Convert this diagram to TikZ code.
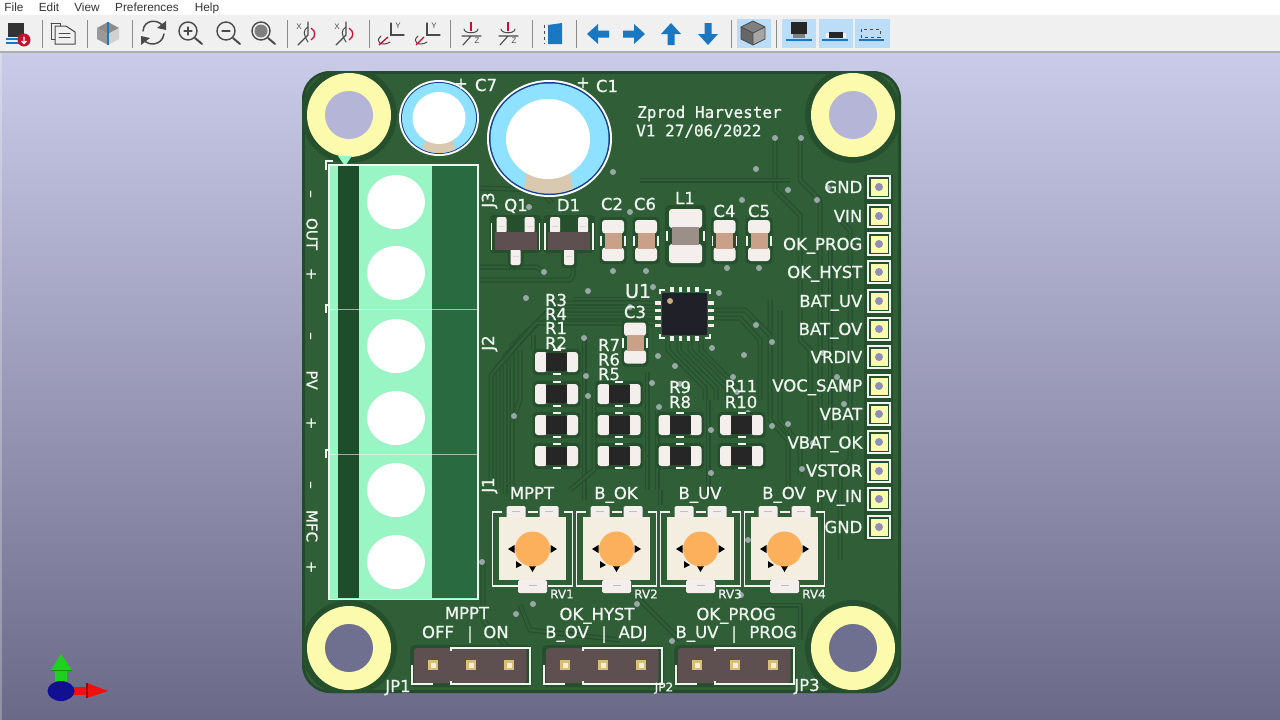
\documentclass[tikz,border=0pt]{standalone}
\usepackage{fontspec}
\setmainfont{DejaVu Sans}
\newfontfamily\silkf{DejaVu Sans}[RawFeature={embolden=0.8}]
\newfontfamily\monof{DejaVu Sans Mono}[RawFeature={embolden=0.8}]
\newfontfamily\uif{Liberation Sans}
\usetikzlibrary{calc}
\definecolor{bgtop}{HTML}{CACAE9}
\definecolor{bgbot}{HTML}{6A6A88}
\definecolor{pcbedge}{HTML}{234A2A}
\definecolor{pour}{HTML}{2F5E37}
\definecolor{clear}{HTML}{26502D}
\definecolor{silk}{HTML}{EFF5EF}
\definecolor{padw}{HTML}{F4EFEC}
\definecolor{padcream}{HTML}{F3EEE0}
\definecolor{captan}{HTML}{C9A088}
\definecolor{lgreen}{HTML}{9AF5C4}
\definecolor{dgreen}{HTML}{1D4D2B}
\definecolor{mgreen}{HTML}{2A6A40}
\definecolor{yel}{HTML}{FCFAAC}
\definecolor{cyanb}{HTML}{8FE2FF}
\definecolor{navyb}{HTML}{12408F}
\definecolor{viac}{HTML}{98A8A6}
\definecolor{bodyc}{HTML}{5E4F50}
\definecolor{ic}{HTML}{4A4A4A}
\definecolor{bl}{HTML}{1A78C2}
\definecolor{rd}{HTML}{C8102E}
\definecolor{hi}{HTML}{BBDDF8}
\definecolor{orangec}{HTML}{FDB05C}
\definecolor{pingold}{HTML}{D8BE78}
\definecolor{dotc}{HTML}{8F8FB8}
\definecolor{holet}{HTML}{B5B5D8}
\definecolor{holeb}{HTML}{6F6F90}
\definecolor{gzg}{HTML}{20D020}
\definecolor{gzgd}{HTML}{109010}
\definecolor{gzr}{HTML}{F01010}
\definecolor{gzrd}{HTML}{900808}
\definecolor{gzb}{HTML}{101090}
\definecolor{ctan}{HTML}{D9C9B0}
\definecolor{lgrey}{HTML}{9A9088}
\definecolor{icblack}{HTML}{202028}
\definecolor{pin1}{HTML}{C0B080}
\tikzset{
 sl/.style={text=silk,inner sep=0pt,text height=12pt,text depth=0pt,font=\fontsize{16.5}{17}\silkf\selectfont},
 srt/.style={sl,anchor=east},
 ssm/.style={text=silk,inner sep=0pt,text height=8.8pt,text depth=0pt,font=\fontsize{12}{12}\silkf\selectfont},
 mono/.style={text=silk,inner sep=0pt,text height=11.8pt,text depth=0pt,font=\fontsize{16}{17}\monof\selectfont},
 menu/.style={inner sep=0pt,anchor=base,text=black!80,font=\fontsize{11.8}{12}\uif\selectfont},
 axl/.style={inner sep=0pt,text=ic,font=\fontsize{8}{8}\uif\selectfont},
 tk/.style={draw=silk,line width=1.3pt},
 trk/.style={draw=clear,double=pour,line width=1.2pt,double distance=2.6pt,line join=round},
 icl/.style={draw=ic,line width=1.3pt,line cap=round},
 sepv/.style={draw=black!45,line width=1pt},
}
\newcommand\vias[1]{\foreach \a/\b in {#1}{\fill[viac] (\a,\b) circle (3);}}
\newcommand\hole[3]{\fill[clear] (#1,#2) circle (48);\fill[yel] (#1,#2) circle (42);\fill[#3] (#1,#2) circle (24);}
\newcommand\capv[4][20.5]{%
 \fill[clear,rounded corners=4] (#2-13.5,#3-#1-3) rectangle (#2+13.5,#3+#1+3);
 \draw[tk] (#2-12,#3-5)--(#2-12,#3+5) (#2+12,#3-5)--(#2+12,#3+5);
 \fill[padw,rounded corners=3] (#2-11,#3-#1) rectangle (#2+11,#3-7);
 \fill[padw,rounded corners=3] (#2-11,#3+#1) rectangle (#2+11,#3+7);
 \fill[#4] (#2-8.5,#3-8) rectangle (#2+8.5,#3+8);
}
\newcommand\resh[2]{%
 \fill[clear,rounded corners=4] (#1-24,#2-13) rectangle (#1+24,#2+13);
 \draw[tk] (#1-4,#2-12)--(#1+4,#2-12) (#1-4,#2+12)--(#1+4,#2+12);
 \fill[padw,rounded corners=3] (#1-21.5,#2-10) rectangle (#1-9,#2+10);
 \fill[padw,rounded corners=3] (#1+21.5,#2-10) rectangle (#1+9,#2+10);
 \fill[black!85] (#1-10.5,#2-9) rectangle (#1+10.5,#2+9);
}
\newcommand\sot[2]{%
 \fill[clear,rounded corners=4] (#1-26,#2-17) rectangle (#1+26,#2+21);
 \fill[clear,rounded corners=4] (#1-8,#2+17) rectangle (#1+8,#2+36);
 \draw[tk] (#1-24,#2-9)--(#1-24,#2+18) (#1+24,#2-9)--(#1+24,#2+18);
 \foreach \dx in {-14,14}{\fill[padw,rounded corners=2] (#1+\dx-5,#2-15) rectangle (#1+\dx+5,#2+1);\fill[black!15] (#1+\dx-3,#2-6) rectangle (#1+\dx+3,#2-5);}
 \fill[padw,rounded corners=2] (#1-5,#2+17) rectangle (#1+5,#2+33);
 \fill[black!15] (#1-3,#2+24) rectangle (#1+3,#2+25);
 \fill[bodyc] (#1-21,#2) rectangle (#1+21,#2+18);
}
\newcommand\trim[1]{%
 \draw[tk] (#1-31,512)--(#1-40,512)--(#1-40,586)--(#1-15,586);
 \draw[tk] (#1+31,512)--(#1+40,512)--(#1+40,586)--(#1+15,586);
 \draw[tk] (#1-5,512)--(#1+5,512);
 \fill[padw,rounded corners=1.5] (#1-26,506) rectangle (#1-7,518);
 \fill[padw,rounded corners=1.5] (#1+7,506) rectangle (#1+26,518);
 \fill[padw,rounded corners=1.5] (#1-14.5,580) rectangle (#1+14.5,593);
 \foreach \dx in {-16.5,16.5}{\fill[black!25] (#1+\dx-4,510.5) rectangle (#1+\dx+4,512);}
 \fill[black!25] (#1-4,584.5) rectangle (#1+4,586);
 \fill[padcream] (#1-33.5,517) rectangle (#1+33.5,580);
 \fill[black] (#1-24.5,549) -- (#1-18,545) -- (#1-18,553) -- cycle;
 \fill[black] (#1+24.5,549) -- (#1+18,545) -- (#1+18,553) -- cycle;
 \fill[black] (#1,572) -- (#1-3.5,566) -- (#1+3.5,566) -- cycle;
 \fill[black] (#1-10.5,565) -- (#1-16.5,561) -- (#1-16.5,568) -- cycle;
 \fill[orangec] (#1,549) circle (17.5);
}
\newcommand\jp[1]{%
 \fill[clear,rounded corners=5] (#1-23,645) rectangle (#1+99,687);
 \fill[bodyc,rounded corners=3] (#1-19,648) rectangle (#1+93.5,683);
 \draw[tk] (#1-21,665)--(#1-21,684)--(#1,684);
 \draw[tk] (#1+18,651)--(#1+18,648)--(#1+97,648)--(#1+97,684)--(#1+18,684)--(#1+18,681);
 \foreach \dx in {0,38,76}{\fill[pingold] (#1+\dx-5,660) rectangle (#1+\dx+5,670);\fill[padcream] (#1+\dx-2.5,662.5) rectangle (#1+\dx+2.5,667.5);}
}
\newcommand\pinp[1]{%
 \draw[draw=silk,line width=1.3pt] (868,#1-11) rectangle (890,#1+11);
 \fill[yel] (870.5,#1-8.5) rectangle (887.5,#1+8.5);
 \fill[dotc] (879,#1) circle (4);
}
\newcommand\hiconbg[2]{\fill[hi] (#1,19) rectangle (#2,48);}
\newcommand\rotic[2]{%
 \node[axl] (axx#2) at (#1-7,27) {X};
 \draw[icl,line width=1.1pt] (#1+2,22)--(#1+2,35)--(#1-8,45);
 \draw[rd,line width=1.3pt] (#1+5,28) .. controls (#1+10,31) and (#1+10,37) .. (#1+5,40);
 \draw[icl,line width=1pt] (#1+2,42) .. controls (#1-3,34) and (#1-3,30) .. (#1+2,27);
}
\begin{document}
\begin{tikzpicture}[x=1pt,y=-1pt]
\useasboundingbox (0,0) rectangle (1280,720);
\shade[top color=bgtop,bottom color=bgbot] (0,52) rectangle (1280,720);
\fill[white,opacity=.25] (0,52) rectangle (2,720);
\fill[white] (0,0) rectangle (1280,15);
\fill[black!6] (0,15) rectangle (1280,51);
\fill[black!32] (0,51) rectangle (1280,53);
\node[menu] (mfile) at (14,11) {File};
\node[menu] (medit) at (49,11) {Edit};
\node[menu] (mview) at (87,11) {View};
\node[menu] (mpref) at (147,11) {Preferences};
\node[menu] (mhelp) at (207,11) {Help};
\hiconbg{737}{771}\hiconbg{782}{816}\hiconbg{819}{853}\hiconbg{855}{890}
\foreach \x in {42,87,132,287,369,450,532,576,731,776}{\draw[sepv] (\x,20)--(\x,48);}
\fill[black!80] (8,23) rectangle (24,37);
\fill[bl] (6,38) rectangle (24,40); \fill[bl] (6,42) rectangle (22,44);
\fill[rd] (24,40) circle (6.5);
\draw[white,line width=1.4pt] (24,36.5)--(24,43) (21.5,41)--(24,43.5)--(26.5,41);
\draw[icl,line width=1pt] (51,23)--(60,23)--(60,26) (51,23)--(51,39)--(55,39);
\draw[icl,line width=1pt] (55,26)--(66,26)--(75,32)--(75,44)--(55,44)--cycle;
\draw[icl,line width=1pt] (59,33)--(70,33) (59,37)--(70,37);
\fill[black!45] (108,22)--(119,28)--(108,34)--(97,28)--cycle;
\fill[black!40] (97,28)--(108,34)--(108,45)--(97,39)--cycle;
\fill[black!18] (119,28)--(108,34)--(108,45)--(119,39)--cycle;
\draw[bl,line width=1.2pt] (108,22)--(108,45);
\draw[icl,line width=1.5pt] (143,31) .. controls (144,19) and (158,19) .. (163,26);
\draw[icl,line width=1.5pt] (164,34) .. controls (162,46) and (148,46) .. (144,40);
\fill[ic] (166,21)--(166,30)--(157,28)--cycle;
\fill[ic] (141,45)--(141,36)--(150,38)--cycle;
\foreach \x in {188,226,261}{\draw[icl,line width=1.4pt] (\x,31) circle (9);\draw[icl,line width=2pt] (\x+7,38)--(\x+14,44);}
\draw[icl] (184,31)--(192,31) (188,27)--(188,35);
\draw[icl] (222,31)--(230,31);
\fill[black!50] (261,31) circle (6.5);
\rotic{306}{a}
\rotic{344}{b}
\node[axl] (axya) at (398,26) {Y};
\draw[icl,line width=1.1pt] (391,23)--(391,35)--(404,35);
\draw[rd,line width=1.3pt] (379,45)--(388,37);
\draw[icl,line width=1pt] (381,36) .. controls (374,42) and (382,47) .. (390,42);
\node[axl] (axyb) at (434,26) {Y};
\draw[icl,line width=1.1pt] (427,23)--(427,35)--(440,35);
\draw[rd,line width=1.3pt] (416,45)--(424,37);
\draw[icl,line width=1pt] (418,36) .. controls (411,42) and (419,47) .. (427,42);
\foreach \x in {472,509}{
 \node[axl] (axz\x) at (\x+5,41) {Z};
 \draw[rd,line width=1.3pt] (\x-1,22)--(\x-1,31);
 \draw[icl,line width=1.1pt] (\x-10,36)--(\x+9,36) (\x-1,36)--(\x-9,45);
 \draw[icl,line width=1pt] (\x-8,29) .. controls (\x-8,34) and (\x+6,34) .. (\x+6,29);
}
\fill[bl] (548,25)--(562,23)--(562,44)--(548,44)--cycle;
\draw[ic,dashed,line width=1pt] (544,25)--(544,44);
\foreach \ax/\ang in {598/180,634/0,671/90,708/-90}{
 \fill[bl,shift={(\ax,34)},rotate=\ang] (-11,-3.5)--(0,-3.5)--(0,-10)--(11,0)--(0,10)--(0,3.5)--(-11,3.5)--cycle;}
\fill[black!50] (753,21)--(765,27)--(753,33)--(741,27)--cycle;
\fill[black!60] (741,27)--(753,33)--(753,45)--(741,39)--cycle;
\fill[black!35] (765,27)--(753,33)--(753,45)--(765,39)--cycle;
\draw[ic,line width=.8pt] (753,21)--(765,27)--(765,39)--(753,45)--(741,39)--(741,27)--cycle (741,27)--(753,33)--(765,27) (753,33)--(753,45);
\fill[black!85] (791,22) rectangle (807,34);
\fill[black!50] (793,34) rectangle (805,38);
\fill[bl] (786,39) rectangle (812,41);
\fill[black!85] (829,32) rectangle (843,38); \fill[padw] (826,33) rectangle (829,38); \fill[padw] (843,33) rectangle (846,38);
\fill[bl] (822,39) rectangle (848,41);
\draw[ic,dashed,line width=1pt] (861,29) rectangle (880,37);
\fill[bl] (859,39) rectangle (884,41);
% gizmo
\fill[gzg] (55,669) rectangle (67,684);
\fill[gzg] (61,654)--(72,670)--(51,670)--cycle;
\draw[gzgd,line width=1pt] (51,670.5)--(72,670.5);
\fill[gzr] (70,687) rectangle (88,695);
\fill[gzr] (108,691)--(87,683)--(87,698)--cycle;
\draw[gzrd,line width=1.2pt] (87,683)--(87,698);
\fill[gzb] (61,691) ellipse (13.5 and 10);
% PCB
\fill[pcbedge,rounded corners=28] (302,71) rectangle (901,693);
\fill[pour,rounded corners=24] (305,74) rectangle (898,690);
\begin{scope}
\clip[rounded corners=28] (302,71) rectangle (901,693);
\fill[clear] (864,175) rectangle (893,540);
\draw[trk] (480,267)--(537,267)--(544,272);
\draw[trk] (480,280)--(570,280)--(573,275)--(573,265);
\draw[trk] (480,188)--(540,190)--(552,203);
\draw[trk] (573,303)--(622,303);
\draw[trk] (573,299)--(640,299);
\foreach \k/\y/\x in {0/303/512,1/310/505,2/317/498,3/323/491}{
 \draw[trk] (658,\y)--(\x+45,\y)--(\x,\y+43+\k*3)--(\x,500-\k*6);}
\draw[trk] (520,350)--(520,400)--(514,416);
\draw[trk] (533,335)--(533,350);
\draw[trk] (584,338)--(584,500);
\draw[trk] (594,390)--(594,470)--(570,490);
\draw[trk] (647,372)--(647,490);
\draw[trk] (657,410)--(657,490);
\foreach \d in {0,1,2,3}{
 \draw[trk] (668+\d*11,340)--(668+\d*11,350)--(705+\d*11,388)--(705+\d*11,400);
}
\draw[trk] (708,400)--(708,500);
\draw[trk] (770,300)--(770,420)--(788,440)--(788,500);
\draw[trk] (780,310)--(780,420)--(800,445)--(800,475);
\draw[trk] (712,310)--(745,310)--(770,335);
\draw[trk] (712,318)--(740,318)--(760,340)--(760,400);
\draw[trk] (800,138)--(800,180)--(820,200)--(820,530);
\draw[trk] (775,138)--(775,190)--(800,215)--(800,340)--(810,350)--(810,440);
\draw[trk] (840,220)--(850,230)--(850,460)--(840,470)--(840,560);
\draw[trk] (830,250)--(830,430);
\draw[trk] (483,562)--(483,620)--(510,650);
\draw[trk] (520,605)--(530,630)--(620,640);
\draw[trk] (640,600)--(680,640);
\draw[trk] (760,605)--(800,605)--(800,640);
\draw[trk] (660,490)--(660,505);
\draw[trk] (640,180)--(790,180);
\hole{349}{115}{holet}\hole{853}{115}{holet}\hole{349}{648}{holeb}\hole{853}{648}{holeb}
\end{scope}
\vias{613/172,529/207,544/272,613/271,588/291,526/298,756/169,775/138,801/138,788/190,828/188,817/200,742/200,630/212,646/271,727/268,759/268,653/287,719/293,630/307,756/325,772/342,584/338,712/348,744/355,658/356,675/366,586/376,588/396,652/383,680/384,733/377,737/392,659/407,748/413,514/416,711/430,772/426,788/424,711/473,823/353,837/377,847/388,844/404,813/443,802/469,482/562,533/604,516/614,637/604,748/540,741/595,672/641}
% C7
\fill[white] (439,118) ellipse (40 and 38);
\fill[navyb] (439,118) ellipse (38 and 36);
\fill[cyanb] (439,118) ellipse (37 and 35);
\begin{scope}
\clip (439,118) ellipse (37 and 35);
\fill[ctan] (428,130)--(450,130)--(458,160)--(420,160)--cycle;
\end{scope}
\fill[white] (439,118) ellipse (26.5 and 26);
% C1
\fill[white] (549.5,138.5) ellipse (62.5 and 58.5);
\fill[navyb] (549.5,138.5) ellipse (60.5 and 56.5);
\fill[cyanb] (549.5,138.5) ellipse (59 and 55);
\begin{scope}
\clip (549.5,138.5) ellipse (59 and 55);
\fill[ctan] (530,150)--(566,150)--(575,200)--(522,200)--cycle;
\end{scope}
\fill[white] (548,139) ellipse (42 and 40);
% terminal block
\draw[tk] (326,170)--(326,161)--(333,161);
\draw[tk] (326,313)--(326,305)--(333,305);
\draw[tk] (326,458)--(326,450)--(333,450);
\fill[lgreen] (338,156)--(352,156)--(345,166)--cycle;
\fill[lgreen] (329,165) rectangle (478,599.5);
\fill[dgreen] (338,166) rectangle (359,598);
\fill[mgreen] (432,166) rectangle (477,598);
\draw[silk,opacity=.6,line width=.7pt] (329,309)--(478,309) (329,454)--(478,454);
\draw[draw=silk,line width=1.4pt] (329,165) rectangle (478,599.5);
\foreach \y in {202,273,346,418,490,562}{\fill[white] (396,\y) ellipse (29 and 27);}
% chips
\sot{515.5}{232}\sot{569}{232}
\capv{613}{240.5}{captan}\capv{646}{240.5}{captan}\capv{724.5}{240.5}{captan}\capv{759}{240.5}{captan}\capv{635}{343}{captan}
\fill[clear,rounded corners=4] (665,205) rectangle (706,267);
\draw[tk] (667,231)--(667,241) (704,231)--(704,241);
\fill[padw,rounded corners=3] (669,209) rectangle (702,228);
\fill[padw,rounded corners=3] (669,263) rectangle (702,244);
\fill[lgrey] (672,227) rectangle (699,245);
% U1
\draw[tk] (660,294)--(660,290)--(665,290) (710,294)--(710,290)--(705,290) (660,334)--(660,338)--(665,338) (710,334)--(710,338)--(705,338);
\foreach \p in {0,1,2,3}{
 \fill[padw] (672+8.3*\p-1.7,287)rectangle (672+8.3*\p+1.7,292);
 \fill[padw] (672+8.3*\p-1.7,336)rectangle (672+8.3*\p+1.7,341);
 \fill[padw] (655,303+7.5*\p-1.7)rectangle (660.5,303+7.5*\p+1.7);
 \fill[padw] (708,303+7.5*\p-1.7)rectangle (713.5,303+7.5*\p+1.7);
}
\fill[icblack,rounded corners=1] (662,293) rectangle (707,335);
\fill[pin1] (670,301) circle (3);
\foreach \y in {362,394,425,456}{\resh{556.5}{\y}}
\foreach \y in {394,425,456}{\resh{619}{\y}}
\foreach \x in {680,741.5}{\resh{\x}{425}\resh{\x}{456}}
\trim{532.5}\trim{616.5}\trim{700.5}\trim{784.5}
\jp{433}\jp{565}\jp{697}
\foreach \y in {187,216,244,272,301,329,357,386,414,442,471,499,527}{\pinp{\y}}
% labels
\foreach \t/\y [count=\k] in {GND/187,VIN/216,OK\_PROG/244,OK\_HYST/272,BAT\_UV/301,BAT\_OV/329,VRDIV/357,VOC\_SAMP/385.5,VBAT/414,VBAT\_OK/442.5,VSTOR/470.5,PV\_IN/496,GND/527}{\node[srt] (pl\k) at (862.5,\y) {\t};}
\node[sl] (tC7p) at (461,83) {+};
\node[sl] (tC7) at (486,85) {C7};
\node[sl] (tC1p) at (583,82) {+};
\node[sl] (tC1) at (607,86) {C1};
\node[mono,anchor=west] (tz1) at (637,112) {Zprod Harvester};
\node[mono,anchor=west] (tz2) at (636,130.5) {V1 27/06/2022};
\node[sl,rotate=90] (tJ3) at (488,200) {J3};
\node[sl,rotate=90] (tJ2) at (488,343) {J2};
\node[sl,rotate=90] (tJ1) at (488,485) {J1};
\node[sl] (tQ1) at (516,205) {Q1};
\node[sl] (tD1) at (568.5,205) {D1};
\node[sl] (tC2) at (612,204) {C2};
\node[sl] (tC6) at (645,204) {C6};
\node[sl] (tL1) at (685,198) {L1};
\node[sl] (tC4) at (724.5,211) {C4};
\node[sl] (tC5) at (759,211) {C5};
\node[sl,text height=13.8pt,font=\fontsize{19}{19}\silkf\selectfont] (tU1) at (638,291) {U1};
\node[sl] (tC3) at (635,312) {C3};
\foreach \t/\x/\y [count=\k] in {R3/556/300,R4/556/314,R1/556/328,R2/556/343,R7/609/345,R6/609/359.5,R5/609/374,R9/680/387,R8/680/402,R11/741/386,R10/741/402}{\node[sl] (rl\k) at (\x,\y) {\t};}
\foreach \t/\x [count=\k] in {MPPT/532,B\_OK/616,B\_UV/700,B\_OV/784}{\node[sl] (tr\k) at (\x,493) {\t};}
\foreach \t/\x [count=\k] in {RV1/562,RV2/646,RV3/730,RV4/814}{\node[ssm] (rv\k) at (\x,594) {\t};}
\foreach \t/\x/\y [count=\k] in {MPPT/467/613,OFF/438/632,|/470/633,ON/496/632,OK\_HYST/597/614,B\_OV/567/632,|/604/633,ADJ/633/632,OK\_PROG/736/614,B\_UV/697/632,|/734/633,PROG/773/632}{\node[sl] (jl\k) at (\x,\y) {\t};}
\node[sl] (tJP1) at (398,686) {JP1};
\node[ssm] (tJP2) at (664,687) {JP2};
\node[sl] (tJP3) at (807,685) {JP3};
\foreach \t/\y [count=\k] in {–/194,OUT/234,+/274,–/336,PV/380,+/423,–/485,MFC/526,+/567}{\node[sl,rotate=-90,text height=11pt,font=\fontsize{15}{15}\silkf\selectfont] (el\k) at (312,\y) {\t};}
\end{tikzpicture}
\end{document}
